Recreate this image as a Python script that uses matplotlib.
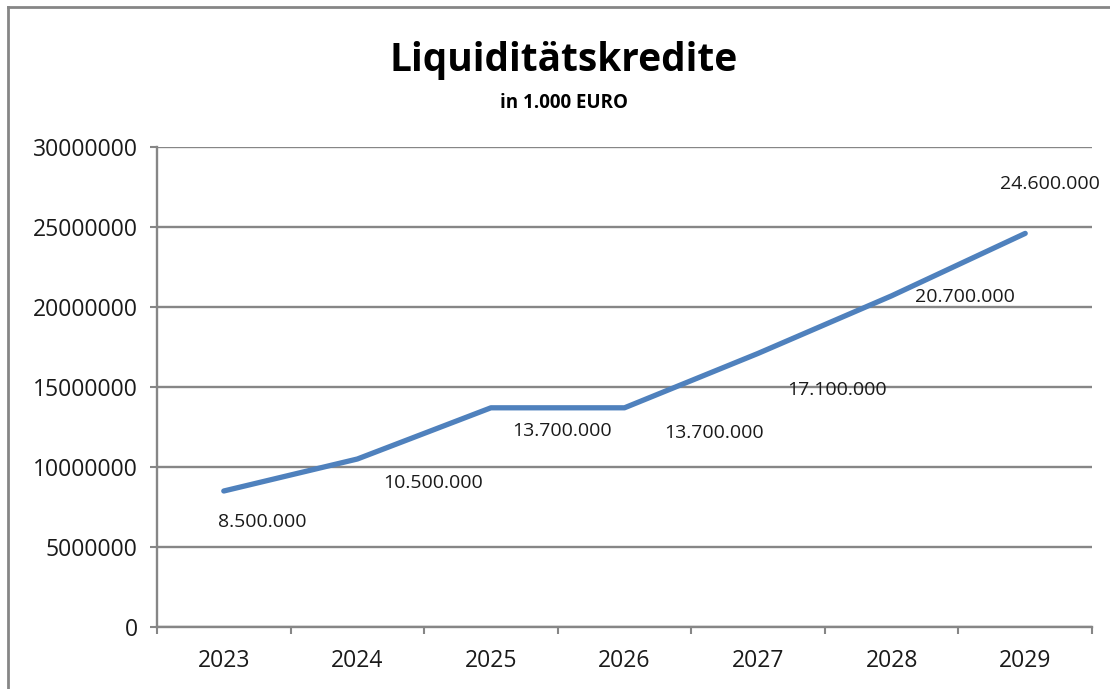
import matplotlib
matplotlib.use("Agg")
import matplotlib.pyplot as plt
from matplotlib.lines import Line2D

years = ["2023", "2024", "2025", "2026", "2027", "2028", "2029"]
values = [8500000, 10500000, 13700000, 13700000, 17100000, 20700000, 24600000]
labels = ["8.500.000", "10.500.000", "13.700.000", "13.700.000",
          "17.100.000", "20.700.000", "24.600.000"]
yticks = [0, 5000000, 10000000, 15000000, 20000000, 25000000, 30000000]

# label offsets in pixels (placement only)
offsets = [(38, -31), (76, -24), (71, -23), (90, -25), (79, -37), (73, -1), (25, 49)]

W, H = 1110, 689
fig = plt.figure(figsize=(W / 100, H / 100), dpi=100)
fig.patch.set_facecolor("white")

FONT = "Open Sans"
grey = "#868686"
txt = "#1a1a1a"

ax = fig.add_axes([157 / W, (H - 627) / H, (1092 - 157) / W, (627 - 147) / H])
x = list(range(len(years)))
ax.plot(x, values, color="#4F81BD", lw=3.8, solid_capstyle="round", zorder=3)
ax.set_xlim(-0.5, len(years) - 0.5)
ax.set_ylim(0, 30000000)
ax.set_yticks(yticks)
ax.set_yticklabels([str(v) for v in yticks], fontfamily=FONT, fontsize=16.5, color=txt)
ax.set_xticks(x)
ax.set_xticklabels(years, fontfamily=FONT, fontsize=16.5, color=txt)
ax.tick_params(axis="x", length=0, pad=16)
ax.tick_params(axis="y", length=5, width=1.5, color=grey, pad=9)
# category boundary ticks
ax.set_xticks([i - 0.5 for i in range(len(years) + 1)], minor=True)
ax.tick_params(axis="x", which="minor", length=5, width=1.5, color=grey)
for s in ["top", "right"]:
    ax.spines[s].set_visible(False)
for s in ["left", "bottom"]:
    ax.spines[s].set_color(grey)
    ax.spines[s].set_linewidth(1.7)
ax.grid(axis="y", color=grey, lw=1.7)
ax.set_axisbelow(True)

for xi, v, lab, off in zip(x, values, labels, offsets):
    ax.annotate(lab, (xi, v), xytext=off, textcoords="offset pixels",
                ha="center", va="center", fontfamily=FONT, fontsize=14,
                color=txt)

fig.text(564 / W, 1 - 60 / H, "Liquiditätskredite", ha="center", va="center",
         fontfamily=FONT, fontweight="bold", fontsize=28)
fig.text(564 / W, 1 - 103 / H, "in 1.000 EURO", ha="center", va="center",
         fontfamily=FONT, fontweight="bold", fontsize=13.5)

# chart border (cropped)
fig.add_artist(Line2D([8 / W, 1.0], [1 - 7 / H, 1 - 7 / H], color=grey, lw=2,
                      transform=fig.transFigure))
fig.add_artist(Line2D([8 / W, 8 / W], [0, 1 - 7 / H], color=grey, lw=2,
                      transform=fig.transFigure))

fig.savefig("out.png", dpi=100)
